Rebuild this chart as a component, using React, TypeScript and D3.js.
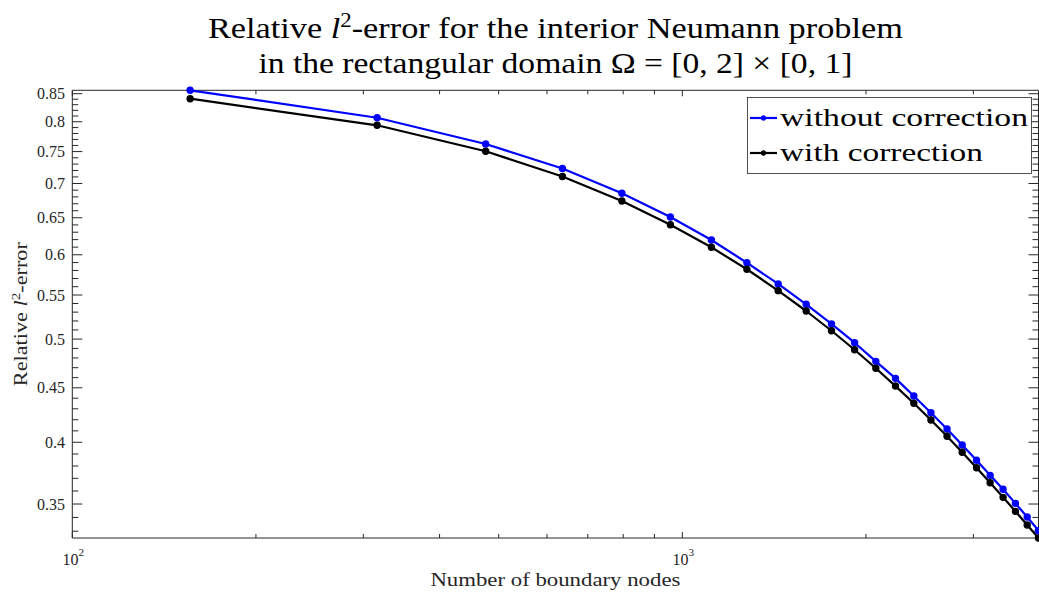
import React from 'react';
import * as d3 from 'd3';

const nodes = [156, 316, 476, 636, 796, 956, 1116, 1276, 1436, 1596, 1756, 1916, 2076, 2236, 2396, 2556, 2716, 2876, 3036, 3196, 3356, 3516, 3676, 3836];
const withoutCorrection = [0.8563, 0.8070, 0.7625, 0.7231, 0.6853, 0.6511, 0.6195, 0.5898, 0.5633, 0.5391, 0.5166, 0.4961, 0.4765, 0.4593, 0.4421, 0.4264, 0.4116, 0.3976, 0.3847, 0.3724, 0.3613, 0.3505, 0.3403, 0.3304];
const withCorrection = [0.8409, 0.7939, 0.7505, 0.7107, 0.6740, 0.6403, 0.6098, 0.5815, 0.5552, 0.5313, 0.5091, 0.4886, 0.4694, 0.4517, 0.4352, 0.4198, 0.4052, 0.3914, 0.3786, 0.3665, 0.3551, 0.3445, 0.3345, 0.3252];
const yMajorTicks = [0.35, 0.4, 0.45, 0.5, 0.55, 0.6, 0.65, 0.7, 0.75, 0.8, 0.85];
const yTickLabels = ['0.35', '0.4', '0.45', '0.5', '0.55', '0.6', '0.65', '0.7', '0.75', '0.8', '0.85'];
const xMajorTicks = [100, 1000];
const xTickExponents = ['2', '3'];
const xMinorTicks = [200, 300, 400, 500, 600, 700, 800, 900, 2000, 3000];
const seriesNames = ['without correction', 'with correction'];
const seriesColors = ['#0000ff', '#000000'];

const W = 1039;
const H = 592;
const L = 72.3, R = 1038.5, T = 90.3, B = 538;
const FONT = '"Liberation Serif", "Times New Roman", serif';
const AX = '#262626';

export default function App() {
  const x = d3.scaleLog().domain([100, d3.max(nodes) as number]).range([L, R]);
  const y = d3
    .scaleLog()
    .domain([d3.min(withCorrection) as number, d3.max(withoutCorrection) as number])
    .range([B, T]);
  const yMinor = d3.range(33, 86).map((v) => v / 100).filter((v) => !yMajorTicks.some((m) => Math.abs(m - v) < 1e-6));
  const line = d3
    .line<number>()
    .x((_, i) => x(nodes[i]))
    .y((d) => y(d));
  const series = [withoutCorrection, withCorrection];
  const legendRows = [118, 153];
  const legendLens = [248, 203];

  return (
    <svg width={W} height={H} style={{ position: 'absolute', left: 0, top: 0, background: '#fff' }} fontFamily={FONT}>
      <rect x={0} y={0} width={W} height={H} fill="#fff" />
      {/* title */}
      <text x={555.4} y={38} textAnchor="middle" fontSize={30} fill="#000" textLength={695} lengthAdjust="spacingAndGlyphs">
        Relative <tspan fontStyle="italic">l</tspan>
        <tspan dy={-11} fontSize={20}>2</tspan>
        <tspan dy={11}>-error for the interior Neumann problem</tspan>
      </text>
      <text x={555.4} y={73} textAnchor="middle" fontSize={30} fill="#000" textLength={594} lengthAdjust="spacingAndGlyphs">
        in the rectangular domain Ω = [0, 2] × [0, 1]
      </text>

      {/* axes box */}
      <g stroke={AX} strokeWidth={1} fill="none">
        <line x1={L} y1={T} x2={R} y2={T} />
        <line x1={L} y1={B} x2={R} y2={B} />
        <line x1={L} y1={T} x2={L} y2={B} />
        <line x1={R} y1={T} x2={R} y2={B} />
        {yMajorTicks.map((t) => (
          <g key={'ym' + t}>
            <line x1={L} x2={L + 10} y1={y(t)} y2={y(t)} />
            <line x1={R} x2={R - 10} y1={y(t)} y2={y(t)} />
          </g>
        ))}
        {yMinor.map((t) => (
          <g key={'yn' + t}>
            <line x1={L} x2={L + 6} y1={y(t)} y2={y(t)} />
            <line x1={R} x2={R - 6} y1={y(t)} y2={y(t)} />
          </g>
        ))}
        {xMajorTicks.map((t) => (
          <g key={'xm' + t}>
            <line x1={x(t)} x2={x(t)} y1={B} y2={B - 6} />
            <line x1={x(t)} x2={x(t)} y1={T} y2={T + 6} />
          </g>
        ))}
        {xMinorTicks.map((t) => (
          <g key={'xn' + t}>
            <line x1={x(t)} x2={x(t)} y1={B} y2={B - 4} />
            <line x1={x(t)} x2={x(t)} y1={T} y2={T + 4} />
          </g>
        ))}
      </g>

      {/* y tick labels */}
      {yMajorTicks.map((t, i) => (
        <text key={'yl' + t} x={65} y={y(t) + 5.5} textAnchor="end" fontSize={16} fill={AX}>
          {yTickLabels[i]}
        </text>
      ))}
      {/* x tick labels */}
      {xMajorTicks.map((t, i) => (
        <text key={'xl' + t} x={x(t) + 1} y={565} textAnchor="middle" fontSize={16} fill={AX}>
          10<tspan dy={-9} fontSize={11}>{xTickExponents[i]}</tspan>
        </text>
      ))}

      {/* axis labels */}
      <text x={555.4} y={586} textAnchor="middle" fontSize={19} fill={AX} textLength={250} lengthAdjust="spacingAndGlyphs">
        Number of boundary nodes
      </text>
      <text
        transform={`translate(27, ${(T + B) / 2}) rotate(-90)`}
        textAnchor="middle"
        fontSize={19}
        fill={AX}
        textLength={144}
        lengthAdjust="spacingAndGlyphs"
      >
        Relative <tspan fontStyle="italic">l</tspan>
        <tspan dy={-7} fontSize={13}>2</tspan>
        <tspan dy={7}>-error</tspan>
      </text>

      {/* series */}
      {series.map((s, k) => (
        <g key={'s' + k}>
          <path d={line(s) || ''} fill="none" stroke={seriesColors[k]} strokeWidth={2.2} strokeLinejoin="round" />
          {s.map((v, i) => (
            <circle key={i} cx={x(nodes[i])} cy={y(v)} r={3} fill={seriesColors[k]} stroke={seriesColors[k]} strokeWidth={1.4} />
          ))}
        </g>
      ))}

      {/* legend */}
      <rect x={747.5} y={97.5} width={284} height={76} fill="#fff" stroke={AX} strokeWidth={0.8} />
      {seriesNames.map((n, k) => (
        <g key={'lg' + k}>
          <line x1={750} x2={777} y1={legendRows[k]} y2={legendRows[k]} stroke={seriesColors[k]} strokeWidth={2.2} />
          <circle cx={763.5} cy={legendRows[k]} r={2.3} fill={seriesColors[k]} stroke={seriesColors[k]} strokeWidth={1} />
          <text x={780} y={legendRows[k] + 8} fontSize={25} fill="#000" textLength={legendLens[k]} lengthAdjust="spacingAndGlyphs">
            {n}
          </text>
        </g>
      ))}
    </svg>
  );
}
